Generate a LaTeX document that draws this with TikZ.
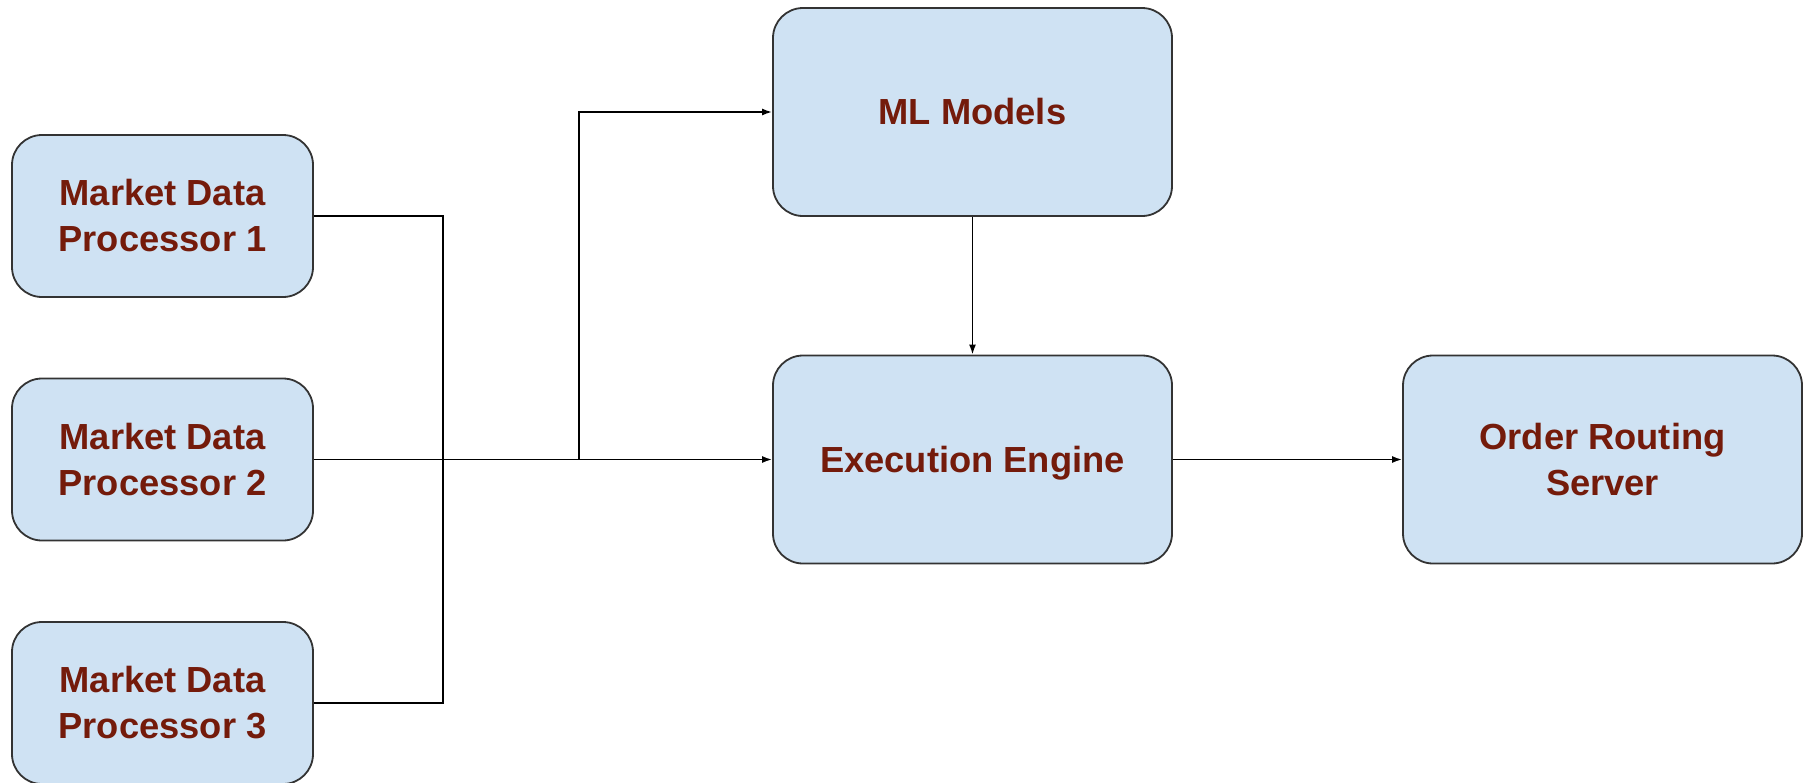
\documentclass[tikz,border=0pt]{standalone}
\usepackage{fontspec}
\setmainfont{Liberation Sans}
\usetikzlibrary{arrows.meta}
\definecolor{boxblue}{HTML}{CFE2F3}
\definecolor{boxline}{HTML}{333333}
\definecolor{labelred}{HTML}{741B0B}
\begin{document}
\begin{tikzpicture}[x=1pt, y=-1pt,
		p/.style = {rectangle, rounded corners=30pt, draw=boxline, fill=boxblue, line width=1.8pt,
			minimum width=301pt, minimum height=162pt, align=center, text=labelred,
			font=\fontsize{36.3}{46}\selectfont\bfseries},
		m/.style = {p, minimum width=399pt, minimum height=208pt},
		r/.style = {-{Latex[length=10pt, width=7pt]}, line width=1.7pt}
		]
		\useasboundingbox (0,0) rectangle (1810,782);
		
		%Nodes
		\node[p]	(mdp1)	at (162.5, 216)		{Market Data\\Processor 1};
		\node[p]	(mdp2)	at (162.5, 459.5)	{Market Data\\Processor 2};
		\node[p]	(mdp3)	at (162.5, 703)		{Market Data\\Processor 3};
		\node[m]	(ml)	at (972.5, 112)		{ML Models};
		\node[m, text depth=0pt]	(exec)	at (972.5, 459.5)	{Execution Engine};
		\node[m]	(ors)	at (1602.5, 459.5)	{Order Routing\\Server};
		
		\coordinate (bus)	at (443, 459.5);
		\coordinate (split)	at (579, 459.5);
		
		%Lines
		\draw[line width=1.7pt] (mdp1.east) -| (bus) |- (mdp3.east);
		\draw[r] (mdp2.east) -- (exec.west);
		\draw[r] (split) |- (ml.west);
		\draw[r] (ml.south) -- (exec.north);
		\draw[r] (exec.east) -- (ors.west);
		
	\end{tikzpicture}
\end{document}
